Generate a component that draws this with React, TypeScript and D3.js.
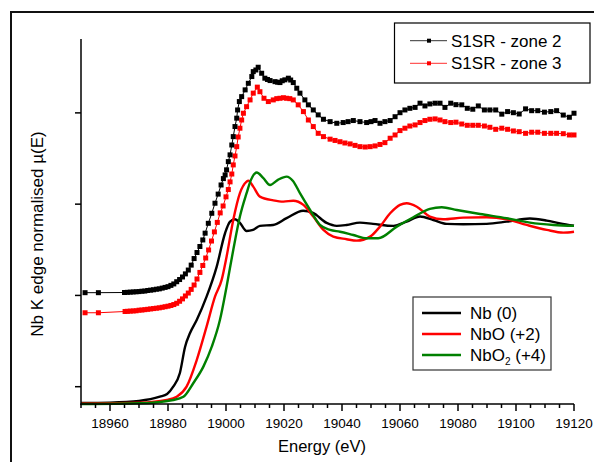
import React from "react";
import * as d3 from "d3";

// ---- data (Energy in eV, normalised mu(E) with arbitrary offsets) ----
const energyMajorTicks = [18960, 18980, 19000, 19020, 19040, 19060, 19080, 19100, 19120];
const yTickValues = [0, 0.5, 1.0, 1.5];

const zone2E = [18951.4,18956.0,18965,18966,18967,18968,18969,18970,18971,18972,18973,18974,18975,18976,18977,18978,18979,18980,18981,18982,18983,18984,18985,18986,18987,18988,18989,18990,18991,18992,18992.8,18993.9,18995.1,18996.2,18997.3,18998.3,18999.1,18999.7,19000.2,19000.8,19001.4,19002.0,19002.5,19003.1,19003.7,19004.0,19004.6,19005.4,19006.6,19007.7,19008.9,19009.4,19010.3,19011.1,19012.3,19013.4,19014.3,19015.2,19016.9,19017.8,19018.6,19019.4,19020.3,19021.5,19022.3,19023.2,19024.4,19025.5,19027.2,19028.4,19030.1,19031.8,19033.6,19035.9,19038.2,19040.4,19042.1,19043.9,19046.2,19048.5,19050.0,19051.4,19053.1,19054.8,19056.6,19058.3,19060.0,19061.7,19063.4,19065.2,19066.9,19068.6,19070.3,19072.1,19073.8,19075.5,19077.5,19079.3,19081.3,19083.2,19085.1,19087.0,19089.1,19091.0,19093.0,19095.1,19097.1,19099.1,19101.1,19103.3,19105.4,19107.5,19109.8,19112.0,19114.0,19116.3,19118.4,19120];
const zone2Mu = [0.515,0.515,0.516,0.517,0.518,0.519,0.520,0.521,0.523,0.524,0.527,0.529,0.531,0.534,0.536,0.540,0.544,0.548,0.555,0.563,0.575,0.587,0.601,0.618,0.639,0.666,0.702,0.735,0.768,0.804,0.841,0.895,0.950,1.005,1.055,1.105,1.140,1.160,1.188,1.233,1.270,1.324,1.370,1.425,1.471,1.516,1.562,1.589,1.626,1.662,1.699,1.726,1.735,1.750,1.717,1.690,1.683,1.677,1.671,1.668,1.666,1.676,1.681,1.690,1.680,1.666,1.635,1.608,1.571,1.544,1.516,1.489,1.465,1.452,1.443,1.447,1.452,1.458,1.452,1.447,1.452,1.458,1.443,1.452,1.458,1.479,1.501,1.516,1.525,1.530,1.553,1.538,1.549,1.553,1.553,1.530,1.553,1.545,1.544,1.525,1.520,1.538,1.516,1.516,1.516,1.493,1.507,1.501,1.494,1.522,1.512,1.512,1.504,1.507,1.512,1.488,1.476,1.498];

const zone3E = [18951.4,18956.0,18965.2,18966,18967,18968,18969,18970,18971,18972,18973,18974,18975,18976,18977,18978,18979,18980,18981,18982,18983,18984,18985,18986,18987,18988,18989,18990,18991,18992,18993,18994,18995,18996,18997,18998,18999,19000,19000.8,19001.4,19002.0,19002.5,19003.1,19003.7,19004.2,19004.8,19005.4,19006.0,19007.1,19008.3,19009.4,19010.8,19011.7,19013.1,19014.6,19016.3,19017.5,19018.6,19019.8,19020.9,19022.0,19023.2,19024.9,19026.7,19028.4,19030.1,19031.8,19033.6,19035.9,19037.6,19039.3,19041.0,19042.8,19044.5,19046.2,19048.0,19049.7,19051.4,19053.1,19054.8,19056.6,19058.3,19060.0,19061.7,19063.4,19065.2,19066.9,19068.6,19070.3,19072.1,19073.8,19075.5,19077.5,19079.3,19081.3,19083.2,19085.1,19087.0,19089.1,19091.0,19093.0,19095.1,19097.1,19099.1,19101.1,19103.3,19105.4,19107.5,19109.8,19112.0,19114.0,19116.3,19118.4,19120];
const zone3Mu = [0.405,0.405,0.412,0.413,0.414,0.415,0.416,0.419,0.420,0.422,0.424,0.426,0.428,0.430,0.432,0.435,0.438,0.441,0.445,0.450,0.457,0.468,0.481,0.497,0.513,0.533,0.557,0.590,0.626,0.664,0.705,0.749,0.798,0.848,0.900,0.952,0.990,1.040,1.080,1.122,1.165,1.215,1.264,1.315,1.368,1.416,1.461,1.498,1.534,1.571,1.608,1.641,1.616,1.580,1.562,1.571,1.578,1.580,1.583,1.580,1.578,1.571,1.544,1.507,1.461,1.425,1.388,1.370,1.356,1.349,1.342,1.335,1.330,1.322,1.315,1.313,1.315,1.319,1.327,1.337,1.361,1.379,1.403,1.416,1.428,1.434,1.447,1.458,1.465,1.467,1.461,1.452,1.447,1.449,1.439,1.432,1.432,1.432,1.428,1.421,1.410,1.416,1.410,1.401,1.397,1.388,1.394,1.394,1.388,1.388,1.388,1.386,1.379,1.379];

const nbE = [18950,18960,18970,18977.2,18979.7,18981.8,18984.1,18985.9,18987.6,18989.9,18993.3,18996.8,18999.7,19001.4,19003.1,19004.8,19007.1,19009.3,19011.7,19016.2,19020.9,19026.6,19030.0,19034.7,19038.2,19041.6,19046.2,19050.7,19057.7,19062.3,19066.9,19071.5,19076.1,19081.8,19089.9,19096.8,19104.8,19110.6,19115.2,19120];
const nbMu = [-0.089,-0.087,-0.078,-0.055,-0.040,0.000,0.075,0.219,0.294,0.365,0.493,0.658,0.842,0.904,0.917,0.897,0.853,0.859,0.881,0.886,0.923,0.964,0.952,0.897,0.881,0.886,0.899,0.892,0.881,0.904,0.932,0.913,0.892,0.890,0.892,0.904,0.921,0.910,0.895,0.882];

const nboE = [18950,18970.3,18979.6,18983.0,18986.4,18989.9,18993.3,18996.2,18998.5,19000.2,19002.5,19004.8,19007.1,19007.7,19009.4,19011.7,19016.3,19019.8,19023.2,19026.7,19030.1,19033.6,19037.0,19041.6,19045.1,19049.7,19053.1,19056.6,19060.0,19062.3,19065.8,19070.3,19074.9,19081.8,19089.9,19096.8,19103.7,19110.6,19116.3,19120];
const nboMu = [-0.092,-0.088,-0.073,-0.055,0.000,0.146,0.329,0.493,0.585,0.712,0.913,1.060,1.123,1.129,1.096,1.041,1.021,1.014,1.019,0.996,0.932,0.859,0.822,0.808,0.800,0.822,0.877,0.950,0.996,1.005,0.986,0.932,0.917,0.926,0.928,0.917,0.886,0.859,0.844,0.849];

const nbo2E = [18950,18970.3,18981.8,18985.3,18988.7,18992.2,18995.1,18997.9,19000.2,19002.5,19004.8,19007.1,19008.6,19010.6,19012.8,19015.2,19017.9,19020.9,19023.1,19025.5,19029.0,19032.4,19035.9,19039.3,19043.9,19048.5,19052.5,19058.9,19064.6,19070.3,19074.4,19079.6,19087.6,19096.8,19104.8,19112.9,19120];
const nbo2Mu = [-0.095,-0.091,-0.073,-0.055,0.019,0.110,0.219,0.365,0.548,0.749,0.932,1.060,1.133,1.173,1.144,1.105,1.133,1.151,1.127,1.060,0.968,0.886,0.859,0.849,0.831,0.813,0.813,0.877,0.928,0.974,0.983,0.968,0.946,0.923,0.899,0.886,0.881];

const FONT = "'Liberation Sans', Arial, Helvetica, sans-serif";

export default function App() {
  const x = d3.scaleLinear().domain([18950, 19120]).range([81, 574]);
  const y = d3.scaleLinear().domain([-0.0948, 1.9047]).range([404, 39]);

  const zip = (a: number[], b: number[]) => a.map((e, i) => [e, b[i]] as [number, number]);
  const smooth = d3.line<[number, number]>().x(d => x(d[0])).y(d => y(d[1])).curve(d3.curveMonotoneX);
  const straight = d3.line<[number, number]>().x(d => x(d[0])).y(d => y(d[1]));

  const zone2 = zip(zone2E, zone2Mu);
  const zone3 = zip(zone3E, zone3Mu);
  const refs = [
    { name: "Nb", data: zip(nbE, nbMu), color: "#000000" },
    { name: "NbO", data: zip(nboE, nboMu), color: "#ff0000" },
    { name: "NbO2", data: zip(nbo2E, nbo2Mu), color: "#008000" },
  ];

  const minorTicks = d3.range(18950, 19121, 5);
  const ms = 5;

  return (
    <svg width={594} height={462} style={{ position: "absolute", left: 0, top: 0, background: "#fff" }} fontFamily={FONT}>
      <rect x={11} y={12} width={640} height={520} fill="none" stroke="#111" strokeWidth={2} />

      {/* reference spectra */}
      {refs.map(r => (
        <path key={r.name} d={smooth(r.data) || ""} fill="none" stroke={r.color} strokeWidth={2.4} />
      ))}

      {/* sample spectra */}
      <path d={straight(zone3) || ""} fill="none" stroke="#ff0000" strokeWidth={1} />
      {zone3.map((d, i) => (
        <rect key={"z3" + i} x={x(d[0]) - ms / 2} y={y(d[1]) - ms / 2} width={ms} height={ms} fill="#ff0000" />
      ))}
      <path d={straight(zone2) || ""} fill="none" stroke="#000" strokeWidth={1} />
      {zone2.map((d, i) => (
        <rect key={"z2" + i} x={x(d[0]) - ms / 2} y={y(d[1]) - ms / 2} width={ms} height={ms} fill="#000" />
      ))}

      {/* axes */}
      <line x1={81} x2={81} y1={39} y2={404.75} stroke="#000" strokeWidth={1.5} />
      <line x1={80.25} x2={574} y1={404} y2={404} stroke="#000" strokeWidth={1.5} />
      {yTickValues.map(v => (
        <line key={"yt" + v} x1={75} x2={81} y1={y(v)} y2={y(v)} stroke="#000" strokeWidth={1.5} />
      ))}
      {minorTicks.map(t => (
        <line key={"xt" + t} x1={x(t)} x2={x(t)} y1={404} y2={energyMajorTicks.includes(t) ? 411 : 408} stroke="#000" strokeWidth={1.5} />
      ))}
      {energyMajorTicks.map(t => (
        <text key={"xl" + t} x={x(t)} y={428} fontSize={13.5} textAnchor="middle" fill="#000">{t}</text>
      ))}
      <text x={322} y={452} fontSize={16.5} textAnchor="middle" fill="#000">Energy (eV)</text>
      <text transform="translate(43,234) rotate(-90)" fontSize={17} textAnchor="middle" fill="#000">Nb K edge normalised µ(E)</text>

      {/* legend 1 */}
      <rect x={394.5} y={23} width={195.5} height={60} fill="#fff" stroke="#000" strokeWidth={1.2} />
      <line x1={410} x2={447} y1={40.7} y2={40.7} stroke="#333" strokeWidth={1} />
      <rect x={427} y={38.7} width={4} height={4} fill="#000" />
      <text x={451} y={46.7} fontSize={17} fill="#000">S1SR - zone 2</text>
      <line x1={410} x2={447} y1={63.3} y2={63.3} stroke="#ff3030" strokeWidth={1} />
      <rect x={427} y={61.3} width={4} height={4} fill="#ff0000" />
      <text x={451} y={69.3} fontSize={17} fill="#000">S1SR - zone 3</text>

      {/* legend 2 */}
      <rect x={413} y={297} width={138} height={73} fill="#fff" stroke="#333" strokeWidth={1.2} />
      <line x1={422} x2={461} y1={313} y2={313} stroke="#000" strokeWidth={2.4} />
      <text x={470} y={319} fontSize={17} fill="#000">Nb (0)</text>
      <line x1={422} x2={461} y1={334} y2={334} stroke="#ff0000" strokeWidth={2.4} />
      <text x={470} y={340} fontSize={17} fill="#000">NbO (+2)</text>
      <line x1={422} x2={461} y1={355} y2={355} stroke="#008000" strokeWidth={2.4} />
      <text x={470} y={361} fontSize={17} fill="#000">NbO<tspan fontSize={10} dy={4}>2</tspan><tspan dy={-4}> (+4)</tspan></text>
    </svg>
  );
}
